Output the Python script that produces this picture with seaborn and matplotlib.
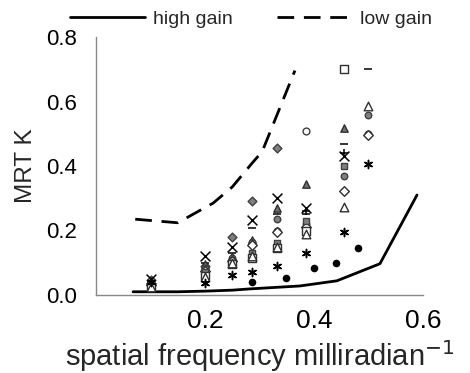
import numpy as np
import pandas as pd
import matplotlib
matplotlib.use("Agg")
import matplotlib.pyplot as plt
import seaborn as sns

sns.set_style("white")
plt.rcParams['font.family'] = ['Liberation Sans', 'DejaVu Sans']

# spatial frequency columns of measurements
freq = [0.1, 0.2, 0.25, 0.286, 0.333, 0.385, 0.455, 0.5]
nan = np.nan
gray_diamond = [0.045, 0.09, 0.18, 0.29, 0.455, nan, nan, nan]
x_cross      = [0.05, 0.122, 0.15, 0.232, 0.30, 0.27, 0.43, nan]
dash         = [0.04, 0.10, 0.13, 0.207, 0.25, 0.25, 0.467, 0.70]
gray_tri     = [0.04, 0.095, 0.12, 0.17, 0.27, 0.345, 0.518, nan]
gray_circle  = [0.035, 0.085, 0.115, 0.165, 0.235, 0.22, 0.37, 0.558]
open_circle  = [0.03, 0.08, 0.11, 0.16, 0.20, 0.508, nan, 0.50]
open_diamond = [0.03, 0.075, 0.105, 0.155, 0.195, 0.21, 0.323, 0.496]
gray_square  = [0.03, 0.07, 0.10, 0.13, 0.16, 0.23, 0.40, nan]
open_square  = [0.025, 0.06, 0.095, 0.115, 0.145, 0.20, 0.70, nan]
open_tri     = [0.025, 0.055, 0.10, 0.12, 0.15, 0.19, 0.273, 0.587]
asterisk     = [0.04, 0.037, 0.063, 0.072, 0.09, 0.13, 0.195, 0.405]
plus         = [nan, nan, nan, nan, nan, 0.26, 0.44, nan]

dot_x = [0.286, 0.349, 0.40, 0.44, 0.48]
dot_y = [0.04, 0.053, 0.085, 0.10, 0.145]

high_x = [0.068, 0.15, 0.2, 0.25, 0.283, 0.374, 0.442, 0.521, 0.589]
high_y = [0.01, 0.01, 0.012, 0.015, 0.019, 0.028, 0.044, 0.097, 0.31]
low_x = [0.072, 0.15, 0.215, 0.25, 0.286, 0.305, 0.365]
low_y = [0.235, 0.224, 0.285, 0.335, 0.408, 0.445, 0.696]

fig = plt.figure(figsize=(4.7, 3.73), dpi=100)
ax = fig.add_axes([96/470, 78/373, 327/470, 258/373])

sns.lineplot(x=high_x, y=high_y, ax=ax, color='black', lw=2.0, label='high gain', sort=False)
sns.lineplot(x=low_x, y=low_y, ax=ax, color='black', lw=2.0, label='low gain', sort=False)
ax.lines[1].set_dashes((6, 3.5))

series = [
    (gray_diamond, 'D', '#808080', '#404040', 20),
    (x_cross, 'x', 'black', 'black', 50),
    (dash, '_', 'black', 'black', 30),
    (gray_tri, '^', '#707070', '#303030', 28),
    (gray_circle, 'o', '#808080', '#404040', 22),
    (open_circle, 'o', 'white', '#404040', 24),
    (open_diamond, 'D', 'white', '#303030', 24),
    (gray_square, 's', '#808080', '#404040', 18),
    (open_square, 's', 'white', '#303030', 34),
    (open_tri, '^', 'white', '#303030', 38),
    (asterisk, (6, 2, 0), 'black', 'black', 34),
    (plus, '+', 'black', 'black', 30),
]
for vals, m, fc, ec, s in series:
    df = pd.DataFrame({'f': freq, 'v': vals}).dropna()
    if m in ('x', '_', '+') or isinstance(m, tuple):
        sns.scatterplot(data=df, x='f', y='v', marker=m, color=ec, s=s, linewidth=1.1, ax=ax, zorder=3)
    else:
        sns.scatterplot(data=df, x='f', y='v', marker=m, facecolor=fc, edgecolor=ec, s=s, linewidth=1.0, ax=ax, zorder=3)

sns.scatterplot(x=dot_x, y=dot_y, marker='o', color='black', s=30, linewidth=0, ax=ax, zorder=3)

ax.set_xlim(0, 0.6)
ax.set_ylim(0, 0.8)
ax.set_xticks([0.2, 0.4, 0.6])
ax.set_xticklabels(['0.2', '0.4', '0.6'], fontsize=19)
ax.set_yticks([0.0, 0.2, 0.4, 0.6, 0.8])
ax.set_yticklabels(['0.0', '0.2', '0.4', '0.6', '0.8'], fontsize=16)
for sp in ['top', 'right']:
    ax.spines[sp].set_visible(False)
for sp in ['left', 'bottom']:
    ax.spines[sp].set_color('#888888')
    ax.spines[sp].set_linewidth(1.0)
ax.tick_params(axis='both', direction='out', length=6, width=1, colors='#888888', labelcolor='black')
ax.tick_params(axis='y', pad=8)
ax.tick_params(axis='x', pad=4)
ax.set_xlabel('spatial frequency milliradian$^{-1}$', fontsize=21, labelpad=4)
ax.set_ylabel('MRT K', fontsize=17.5, labelpad=6)

leg = ax.legend(loc='center left', bbox_to_anchor=(70/470, 1 - 19/373), bbox_transform=fig.transFigure,
                ncol=2, frameon=False, fontsize=14, handlelength=3.85, handletextpad=0.4,
                columnspacing=2.3, borderaxespad=0, borderpad=0.0)

fig.savefig('out.png', dpi=100)
